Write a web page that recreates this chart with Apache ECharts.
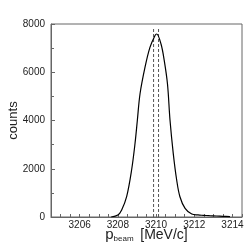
<!DOCTYPE html>
<html><head><meta charset="utf-8">
<script src="https://cdn.jsdelivr.net/npm/echarts@6/dist/echarts.min.js"></script>
<style>html,body{margin:0;padding:0;background:#fff}#c{width:249px;height:249px}</style>
</head><body><div id="c"></div>
<script>
const pBeam = [3207.65, 3208.0, 3208.2, 3208.46, 3208.72, 3208.9, 3209.02, 3209.16, 3209.42, 3209.68, 3209.94, 3210.03, 3210.26, 3210.43, 3210.6, 3210.73, 3210.9, 3211.08, 3211.25, 3211.52, 3211.87, 3212.2, 3212.47, 3212.8, 3213.17, 3213.5, 3213.87];
const counts = [0, 80, 290, 841, 1948, 3055, 4000, 5100, 6200, 7030, 7515, 7585, 7170, 6480, 5500, 4020, 2640, 1534, 841, 360, 124, 85, 70, 55, 41, 30, 15];
const dashedX = [3209.87, 3210.13];
const dashedTop = 7850;
const xTickLabels = [3206, 3208, 3210, 3212, 3214];
const xMin = 3204.5, xMax = 3214.5;
const yMin = 0, yMax = 8000;

const chart = echarts.init(document.getElementById('c'));
const font = 'Liberation Sans, Arial, sans-serif';
const series = [{
  type: 'line', data: pBeam.map((x, i) => [x, counts[i]]),
  smooth: 0.35, showSymbol: false,
  lineStyle: { color: '#000', width: 1.2 }, z: 3
}];
dashedX.forEach(x => series.push({
  type: 'line', data: [[x, 0], [x, dashedTop]], showSymbol: false,
  lineStyle: { color: '#555', width: 1, type: [3, 2] }, z: 2
}));
chart.setOption({
  animation: false,
  grid: { left: 51, right: 7, top: 24, bottom: 32, show: true, borderColor: '#666', borderWidth: 1,
    containLabel: false, outerBoundsMode: 'none' },
  xAxis: {
    type: 'value', min: xMin, max: xMax, interval: 0.5,
    axisLine: { show: true, lineStyle: { color: '#666' } },
    axisTick: { show: true, inside: true, length: 3, lineStyle: { color: '#666' } },
    splitLine: { show: false },
    axisLabel: { color: '#222', fontFamily: font, fontSize: 10, margin: 3, hideOverlap: false,
      showMinLabel: true, showMaxLabel: true,
      formatter: v => xTickLabels.some(t => Math.abs(t - v) < 1e-6) ? String(Math.round(v)) : '' },
    name: '{p|p}{s|beam}  {u|[MeV/c]}', nameLocation: 'middle', nameGap: 10, nameMoveOverlap: false,
    nameTextStyle: { rich: {
      p: { fontFamily: font, fontSize: 15, color: '#222' },
      s: { fontFamily: font, fontSize: 8, color: '#222', verticalAlign: 'bottom', padding: [8, 0, 0, 0] },
      u: { fontFamily: font, fontSize: 14, color: '#222' } } }
  },
  yAxis: {
    type: 'value', min: yMin, max: yMax, interval: 2000,
    axisLine: { show: true, lineStyle: { color: '#666' } },
    axisTick: { show: true, inside: true, length: 4, lineStyle: { color: '#666' } },
    minorTick: { show: true, splitNumber: 2, length: 3, lineStyle: { color: '#666' } },
    splitLine: { show: false },
    axisLabel: { color: '#222', fontFamily: font, fontSize: 10, margin: 6, formatter: v => String(v) },
    name: 'counts', nameLocation: 'middle', nameGap: 31, nameRotate: 90, nameMoveOverlap: false,
    nameTextStyle: { color: '#222', fontFamily: font, fontSize: 13 }
  },
  series: series
});
</script></body></html>
